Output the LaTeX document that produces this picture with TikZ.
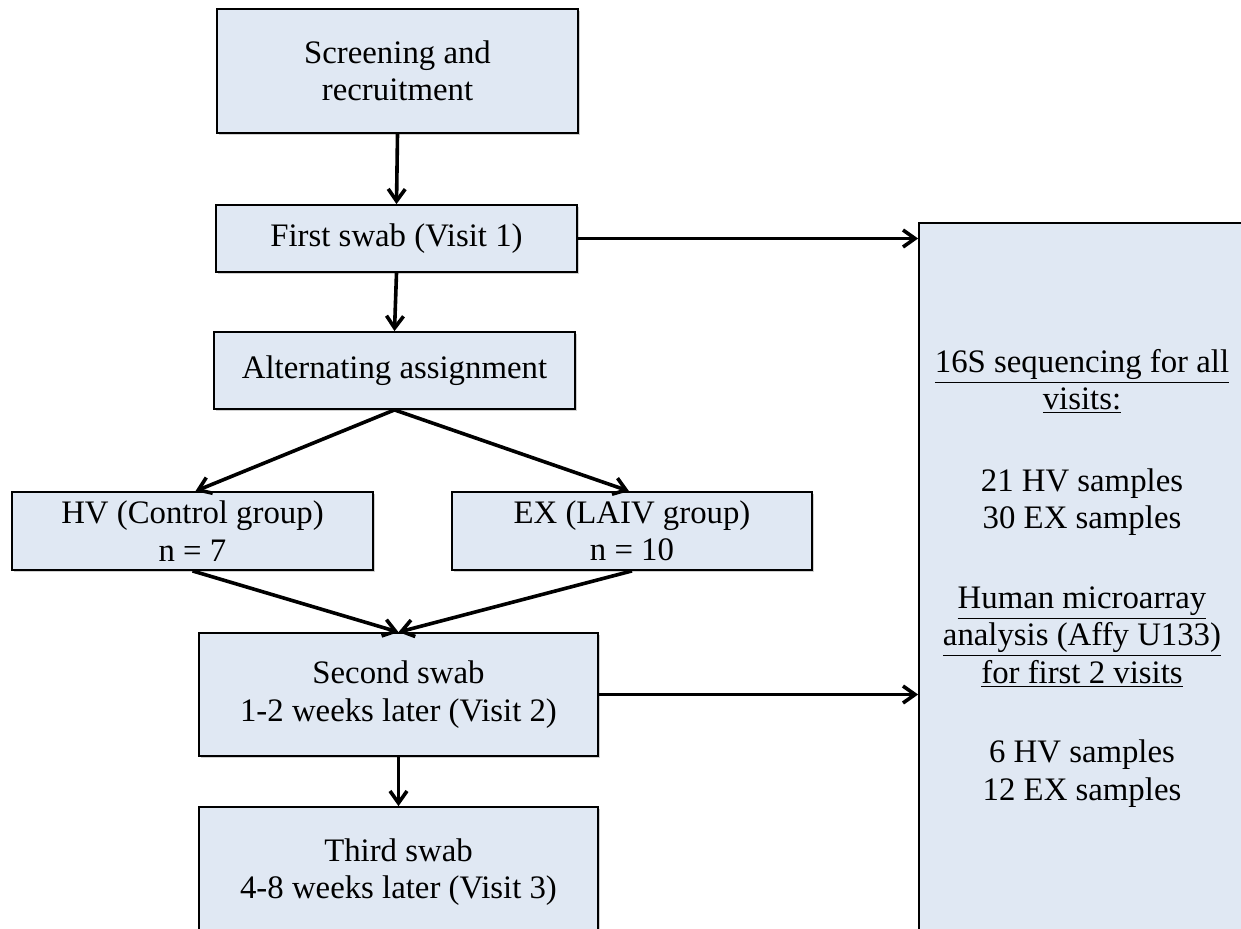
\documentclass[tikz,border=0pt]{standalone}
\usepackage{fontspec}
\setmainfont{Liberation Serif}
\usetikzlibrary{arrows.meta,shadows}
\definecolor{boxfill}{RGB}{224,232,243}
\begin{document}
\begin{tikzpicture}[x=0.5pt,y=-0.5pt,
  box/.style={draw=black, line width=0.9pt, fill=boxfill, align=center,
    inner sep=0pt, font=\fontsize{16.4}{18.75}\selectfont,
    drop shadow={shadow xshift=1.2pt, shadow yshift=-1.2pt, opacity=0.3, fill=black!60}},
  txt/.style={align=center, inner sep=0pt, font=\fontsize{16.4}{18.75}\selectfont},
  arr/.style={line width=1.8pt, -{Straight Barb[length=6pt,width=8.5pt,line width=1.8pt]}}]
\useasboundingbox (0,0) rectangle (1241,928);
\clip (0,0) rectangle (1241,928);
\fill[white] (0,0) rectangle (1241,928);

\node[box, minimum width=180.5pt, minimum height=62pt] (scr) at (397.5,71) {Screening and\\recruitment};
\node[box, minimum width=180.5pt, minimum height=33.5pt] (first) at (396.5,238.5) {First swab (Visit 1)};
\node[box, minimum width=180.5pt, minimum height=38.5pt] (alt) at (394.5,370.5) {Alternating assignment};
\node[box, minimum width=180.5pt, minimum height=39pt] (hv) at (192.5,531) {HV (Control group)\\n = 7};
\node[box, minimum width=180pt, minimum height=39pt] (ex) at (632,531) {EX (LAIV group)\\n = 10};
\node[box, minimum width=199.5pt, minimum height=61.5pt] (sec) at (398.5,694.5) {Second swab\\1-2 weeks later (Visit 2)};
\node[box, minimum width=199.5pt, minimum height=65pt] (third) at (398.5,872) {Third swab\\4-8 weeks later (Visit 3)};
\node[box, minimum width=170pt, minimum height=360pt] (right) at (1089,583) {};
\node[txt] (rtext) at (1082,578) {\underline{16S sequencing for all}\\\underline{visits:}\\[22pt]
21 HV samples\\30 EX samples\\[21pt]
\underline{Human microarray}\\\underline{analysis (Affy U133)}\\\underline{for first 2 visits}\\[21pt]
6 HV samples\\12 EX samples};

\draw[arr] (scr.south) -- (first.north);
\draw[arr] (first.south) -- (alt.north);
\draw[arr] (alt.south) -- ([xshift=1.5pt]hv.north);
\draw[arr] (alt.south) -- ([xshift=-1.5pt]ex.north);
\draw[arr] (hv.south) -- (sec.north);
\draw[arr] (ex.south) -- (sec.north);
\draw[arr] (sec.south) -- (third.north);
\draw[arr] (first.east) -- (first.east -| right.west);
\draw[arr] (sec.east) -- (sec.east -| right.west);
\end{tikzpicture}
\end{document}
